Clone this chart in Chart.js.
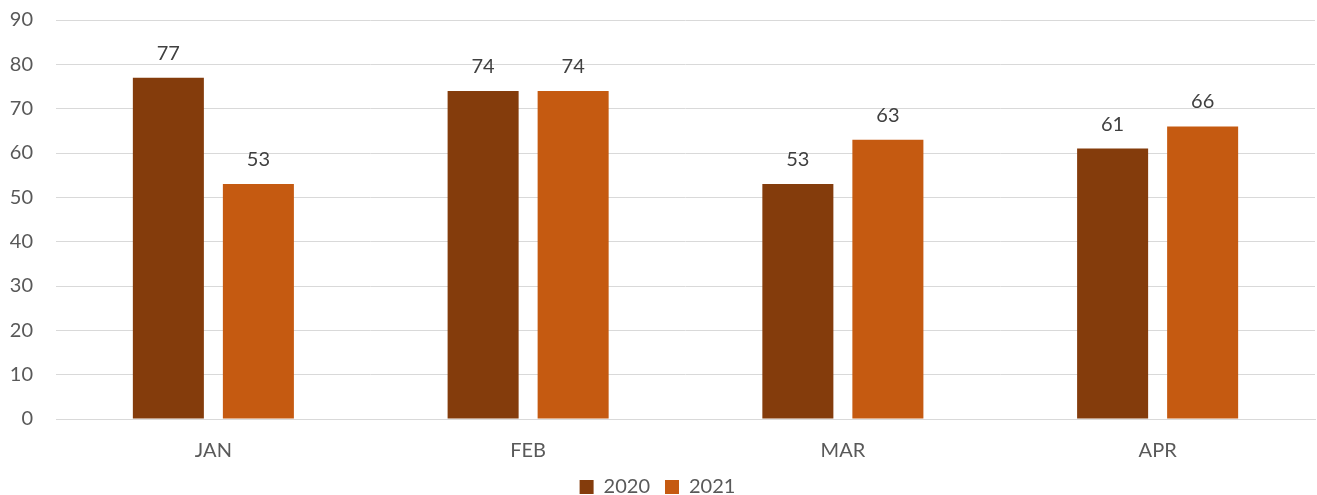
<!DOCTYPE html>
<html>
<head>
<meta charset="utf-8">
<script src="https://cdn.jsdelivr.net/npm/chart.js@4/dist/chart.umd.min.js"></script>
<style>
html,body{margin:0;padding:0;background:#fff;}
#wrap{width:1317px;height:495px;position:relative;}
</style>
</head>
<body>
<div id="wrap"><canvas id="c"></canvas></div>
<script>
const categories = ["JAN", "FEB", "MAR", "APR"];
const series2020 = [77, 74, 53, 61];
const series2021 = [53, 74, 63, 66];
const seriesNames = ["2020", "2021"];
const yTicks = [0, 10, 20, 30, 40, 50, 60, 70, 80, 90];

const FONT = "Lato, 'Open Sans', sans-serif";
const TEXT = "#595959";

const labelPlugin = {
  id: "valueLabels",
  afterDatasetsDraw(chart) {
    const ctx = chart.ctx;
    ctx.save();
    ctx.font = "20px " + FONT;
    ctx.fillStyle = "#404040";
    ctx.textAlign = "center";
    ctx.textBaseline = "alphabetic";
    chart.data.datasets.forEach((ds, i) => {
      const meta = chart.getDatasetMeta(i);
      meta.data.forEach((el, j) => {
        ctx.fillText(String(ds.data[j]), el.x, el.y - 18);
      });
    });
    ctx.restore();
  }
};

new Chart(document.getElementById("c"), {
  type: "bar",
  data: {
    labels: categories,
    datasets: [
      { label: seriesNames[0], data: series2020, backgroundColor: "#843C0C", categoryPercentage: 0.572, barPercentage: 0.789 },
      { label: seriesNames[1], data: series2021, backgroundColor: "#C55A11", categoryPercentage: 0.572, barPercentage: 0.789 }
    ]
  },
  options: {
    responsive: true,
    maintainAspectRatio: false,
    animation: false,
    layout: { padding: { top: 20, right: 2, left: 0, bottom: -12 } },
    plugins: {
      legend: {
        position: "bottom",
        labels: {
          font: { family: FONT, size: 20 },
          color: TEXT,
          boxWidth: 14,
          boxHeight: 14,
          padding: 15
        }
      },
      tooltip: { enabled: false }
    },
    scales: {
      x: {
        afterFit(axis) { axis.height = 43; },
        grid: { display: false, drawTicks: false },
        border: { display: true, color: "#d9d9d9", width: 1 },
        ticks: { font: { family: FONT, size: 20 }, color: TEXT, padding: 20 }
      },
      y: {
        min: 0,
        max: 90,
        afterBuildTicks(axis) { axis.ticks = yTicks.map(v => ({ value: v })); },
        afterFit(axis) { axis.width = 56; },
        grid: { color: "#d9d9d9", lineWidth: 1, drawTicks: true, tickLength: 23, tickColor: "rgba(0,0,0,0)" },
        border: { display: false },
        ticks: { font: { family: FONT, size: 20 }, color: TEXT, padding: 0 }
      }
    }
  },
  plugins: [labelPlugin]
});
</script>
</body>
</html>
